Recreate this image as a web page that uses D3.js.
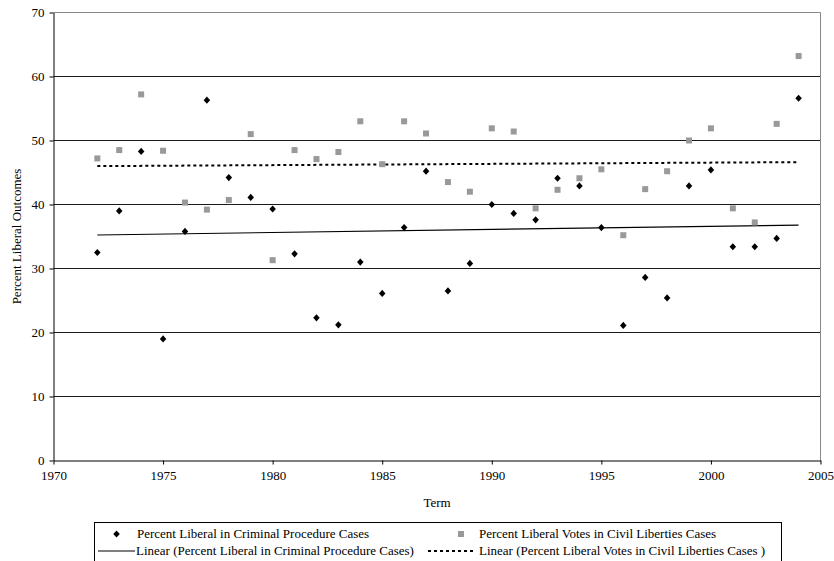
<!DOCTYPE html>
<html>
<head>
<meta charset="utf-8">
<script src="https://cdn.jsdelivr.net/npm/d3@7"></script>
<style>
  html, body { margin: 0; padding: 0; background: #fff; }
  svg, svg text { font-family: "Times New Roman", "Liberation Serif", "DejaVu Serif", serif; }
</style>
</head>
<body>
<svg id="chart" width="834" height="561"></svg>
<script>
const years = [1972,1973,1974,1975,1976,1977,1978,1979,1980,1981,1982,1983,1984,1985,1986,1987,1988,1989,1990,1991,1992,1993,1994,1995,1996,1997,1998,1999,2000,2001,2002,2003,2004];
const criminalProcedure = [32.5,39.0,48.3,19.0,35.8,56.3,44.2,41.1,39.3,32.3,22.3,21.2,31.0,26.1,36.4,45.2,26.5,30.8,40.0,38.6,37.6,44.1,42.9,36.4,21.1,28.6,25.4,42.9,45.4,33.4,33.4,34.7,56.6];
const civilLiberties = [47.2,48.5,57.2,48.4,40.3,39.2,40.7,51.0,31.3,48.5,47.1,48.2,53.0,46.3,53.0,51.1,43.5,42.0,51.9,51.4,39.4,42.3,44.1,45.5,35.2,42.4,45.2,50.0,51.9,39.4,37.2,52.6,63.2];
const xTicks = [1970,1975,1980,1985,1990,1995,2000,2005];
const yTicks = [0,10,20,30,40,50,60,70];
const seriesNames = ["Percent Liberal in Criminal Procedure Cases", "Percent Liberal Votes in Civil Liberties Cases"];
const trendNames = ["Linear (Percent Liberal in Criminal Procedure Cases)", "Linear (Percent Liberal Votes in Civil Liberties Cases )"];

const FONT = '"Times New Roman", "Liberation Serif", "DejaVu Serif", serif';
const svg = d3.select("#chart");
const L = 53.5, R = 820.5, T = 12.5, B = 460.5;
const x = d3.scaleLinear().domain([1970, 2005]).range([L, R]);
const y = d3.scaleLinear().domain([0, 70]).range([B, T]);

// grid lines
svg.append("g").selectAll("line").data(yTicks.filter(v => v > 0 && v < 70)).join("line")
  .attr("x1", L).attr("x2", R).attr("y1", d => y(d)).attr("y2", d => y(d))
  .attr("stroke", "#1a1a1a").attr("stroke-width", 1);

// plot border (top/right gray)
svg.append("path").attr("d", `M${L},${T}H${R}V${B}`).attr("fill", "none").attr("stroke", "#888").attr("stroke-width", 1);

// axes
const xAxis = d3.axisBottom(x).tickValues(xTicks).tickFormat(d3.format("d")).tickSizeInner(4).tickSizeOuter(0).tickPadding(6);
const yAxis = d3.axisLeft(y).tickValues(yTicks).tickFormat(d3.format("d")).tickSizeInner(4).tickSizeOuter(0).tickPadding(5);
const gx = svg.append("g").attr("transform", `translate(0,${B})`).call(xAxis);
const gy = svg.append("g").attr("transform", `translate(${L},0)`).call(yAxis);
[gx, gy].forEach(g => {
  g.attr("font-family", FONT);
  g.select(".domain").attr("stroke", "#000");
  g.selectAll(".tick line").attr("stroke", "#000");
  g.selectAll("text").style("font-family", FONT).attr("font-size", 13).attr("fill", "#000");
});

// trend lines (least squares)
function fit(xs, ys) {
  const mx = d3.mean(xs), my = d3.mean(ys);
  let sxy = 0, sxx = 0;
  xs.forEach((v, i) => { sxy += (v - mx) * (ys[i] - my); sxx += (v - mx) * (v - mx); });
  const b = sxy / sxx;
  return v => my + b * (v - mx);
}
const f1 = fit(years, criminalProcedure), f2 = fit(years, civilLiberties);
const x0 = d3.min(years), x1 = d3.max(years);
svg.append("line").attr("x1", x(x0)).attr("x2", x(x1)).attr("y1", y(f1(x0))).attr("y2", y(f1(x1)))
  .attr("stroke", "#000").attr("stroke-width", 1.2);
svg.append("line").attr("x1", x(x0)).attr("x2", x(x1)).attr("y1", y(f2(x0))).attr("y2", y(f2(x1)))
  .attr("stroke", "#000").attr("stroke-width", 2).attr("stroke-dasharray", "3,3");

// squares (civil liberties)
const sq = 6;
svg.append("g").selectAll("rect").data(years.map((yr, i) => [yr, civilLiberties[i]])).join("rect")
  .attr("x", d => x(d[0]) - sq / 2).attr("y", d => y(d[1]) - sq / 2)
  .attr("width", sq).attr("height", sq).attr("fill", "#999");

// diamonds (criminal procedure)
const diamond = d3.symbol().type(d3.symbolDiamond2).size(30);
svg.append("g").selectAll("path").data(years.map((yr, i) => [yr, criminalProcedure[i]])).join("path")
  .attr("d", diamond).attr("transform", d => `translate(${x(d[0])},${y(d[1])}) scale(0.95,1.05)`)
  .attr("fill", "#000");

// axis titles
svg.append("text").attr("x", (L + R) / 2).attr("y", 507).attr("text-anchor", "middle")
  .style("font-family", FONT).attr("font-size", 13).text("Term");
svg.append("text").attr("transform", `translate(21,${(T + B) / 2}) rotate(-90)`).attr("text-anchor", "middle")
  .style("font-family", FONT).attr("font-size", 13).text("Percent Liberal Outcomes");

// legend
const lg = svg.append("g");
lg.append("rect").attr("x", 94.5).attr("y", 522.5).attr("width", 687).attr("height", 42)
  .attr("fill", "#fff").attr("stroke", "#000").attr("stroke-width", 1);
const col1 = 137, col2 = 479, row1 = 538, row2 = 555;
lg.append("path").attr("d", diamond).attr("transform", `translate(116.5,${row1 - 4}) scale(0.95,1.05)`).attr("fill", "#000");
lg.append("rect").attr("x", 458).attr("y", row1 - 7).attr("width", 6).attr("height", 6).attr("fill", "#999");
lg.append("line").attr("x1", 98).attr("x2", 135).attr("y1", row2 - 4).attr("y2", row2 - 4).attr("stroke", "#000").attr("stroke-width", 1.2);
lg.append("line").attr("x1", 428).attr("x2", 476).attr("y1", row2 - 4).attr("y2", row2 - 4).attr("stroke", "#000").attr("stroke-width", 2).attr("stroke-dasharray", "3,3");
const lt = [[col1, row1, seriesNames[0]], [col2, row1, seriesNames[1]], [col1 - 1, row2, trendNames[0]], [col2, row2, trendNames[1]]];
lg.selectAll("text").data(lt).join("text").attr("x", d => d[0]).attr("y", d => d[1])
  .style("font-family", FONT).attr("font-size", 13).text(d => d[2]);
</script>
</body>
</html>
